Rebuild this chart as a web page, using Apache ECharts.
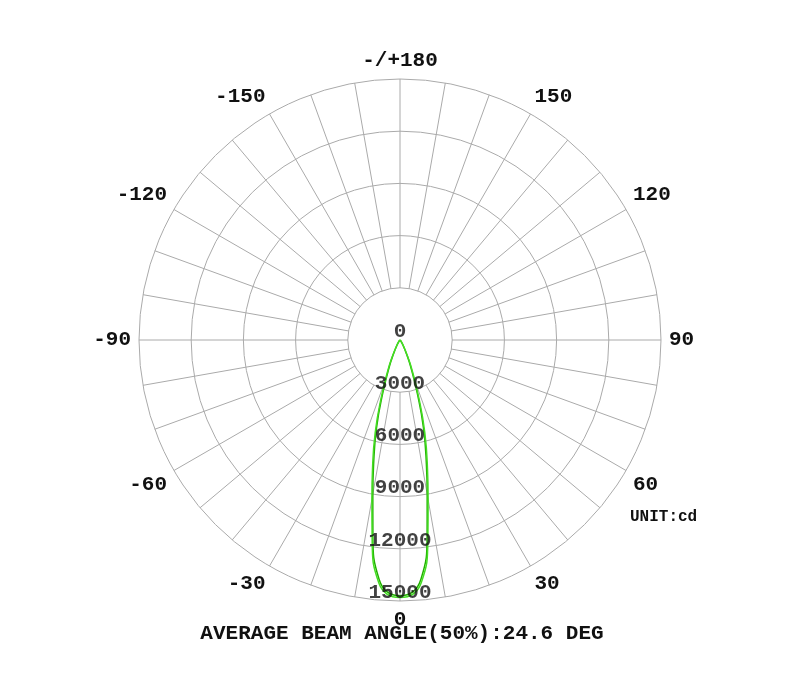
<!DOCTYPE html><html><head><meta charset="utf-8"><script src="https://cdn.jsdelivr.net/npm/echarts@6/dist/echarts.min.js"></script>
<style>html,body{margin:0;background:#fff}#c{width:804px;height:688px}</style></head><body><div id="c"></div><script>
const angles=[0,5,8,10,12,15,18,22,25,30,40,50,90,180];
const c0=[14800,14000,11500,9300,7600,5500,3500,1800,1000,400,100,0,0,0];
const c90=[14700,13800,11200,9000,7300,5200,3200,1600,900,350,80,0,0,0];
const ringTicks=[0,3000,6000,9000,12000,15000];
function full(v){const out=[];for(let i=angles.length-1;i>0;i--)out.push([v[i],-angles[i]]);for(let i=0;i<angles.length;i++)out.push([v[i],angles[i]]);return out;}
const font={fontFamily:'Liberation Mono',fontWeight:'bold',fontSize:21,color:'#111'};
const ch=echarts.init(document.getElementById('c'));
ch.setOption({animation:false,
polar:[{center:[400,340],radius:[0,261]},{center:[400,340],radius:[52,261]}],
angleAxis:[{polarIndex:0,min:-180,max:180,startAngle:90,clockwise:false,interval:30,axisLine:{show:false},axisTick:{show:false},axisLabel:{show:false},splitLine:{show:false}},
{polarIndex:1,min:-180,max:180,startAngle:90,clockwise:false,interval:10,axisLine:{show:false},axisTick:{show:false},
 splitLine:{show:true,lineStyle:{color:'#aaa',width:1}},
 axisLabel:Object.assign({margin:8,formatter:v=>v===-180?'-/+180':(v===180||v%30!==0?'':String(v))},font)}],
radiusAxis:[{polarIndex:0,min:0,max:15000,interval:3000,axisLine:{show:false},axisTick:{show:false},axisLabel:{show:false},splitLine:{lineStyle:{color:'#aaa',width:1}}},
{polarIndex:1,min:0,max:1,axisLine:{show:false},axisTick:{show:false},axisLabel:{show:false},splitLine:{show:false}}],
series:[
{type:'line',coordinateSystem:'polar',polarIndex:0,data:full(c90),symbol:'none',smooth:true,lineStyle:{color:'#22b000',width:1.5}},
{type:'line',coordinateSystem:'polar',polarIndex:0,data:full(c0),symbol:'none',smooth:true,lineStyle:{color:'#44dd22',width:1.5}},
{type:'scatter',coordinateSystem:'polar',polarIndex:0,symbolSize:0,z:10,data:ringTicks.map(v=>[v,0]),
 label:Object.assign({show:true,position:'top',distance:-2,formatter:p=>String(p.value[0])},font)}],
graphic:[{type:'text',left:'center',top:623,z:20,style:{text:'AVERAGE BEAM ANGLE(50%):24.6 DEG',fill:'#111',font:'bold 21px "Liberation Mono"'}},
{type:'text',left:630,top:509,style:{text:'UNIT:cd',fill:'#111',font:'bold 16px "Liberation Mono"'}}]
});
</script></body></html>
